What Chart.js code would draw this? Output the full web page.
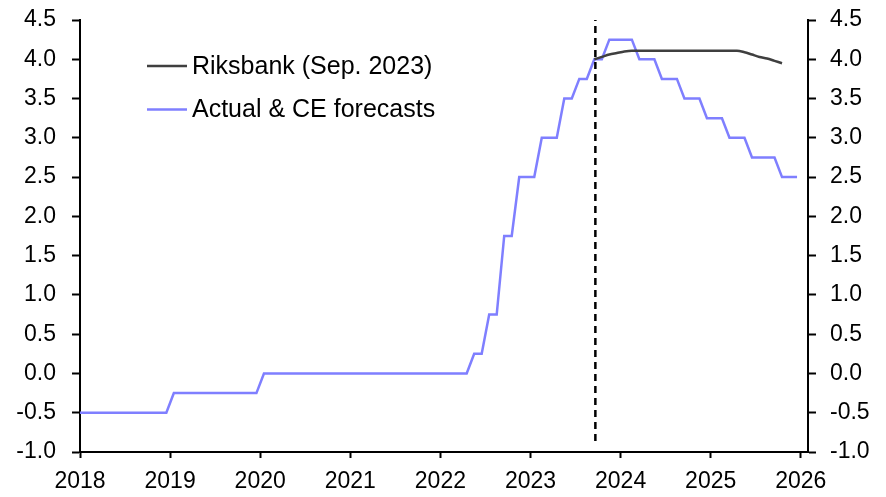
<!DOCTYPE html>
<html>
<head>
<meta charset="utf-8">
<script src="https://cdn.jsdelivr.net/npm/chart.js@4.4.1/dist/chart.umd.min.js"></script>
<style>
  html, body { margin: 0; padding: 0; background: #fff; }
  #wrap { width: 886px; height: 497px; position: relative; }
</style>
</head>
<body>
<div id="wrap"><canvas id="grafico"></canvas></div>
<script>
// Tipo de interés oficial (mensual) y previsiones CE
const rateMonths = [
  '2017-12',
  '2018-01','2018-02','2018-03','2018-04','2018-05','2018-06','2018-07','2018-08','2018-09','2018-10','2018-11','2018-12',
  '2019-01','2019-02','2019-03','2019-04','2019-05','2019-06','2019-07','2019-08','2019-09','2019-10','2019-11','2019-12',
  '2020-01','2020-02','2020-03','2020-04','2020-05','2020-06','2020-07','2020-08','2020-09','2020-10','2020-11','2020-12',
  '2021-01','2021-02','2021-03','2021-04','2021-05','2021-06','2021-07','2021-08','2021-09','2021-10','2021-11','2021-12',
  '2022-01','2022-02','2022-03','2022-04','2022-05','2022-06','2022-07','2022-08','2022-09','2022-10','2022-11','2022-12',
  '2023-01','2023-02','2023-03','2023-04','2023-05','2023-06','2023-07','2023-08','2023-09','2023-10','2023-11','2023-12',
  '2024-01','2024-02','2024-03','2024-04','2024-05','2024-06','2024-07','2024-08','2024-09','2024-10','2024-11','2024-12',
  '2025-01','2025-02','2025-03','2025-04','2025-05','2025-06','2025-07','2025-08','2025-09','2025-10','2025-11','2025-12'
];
const rateValues = [
  -0.5,
  -0.5,-0.5,-0.5,-0.5,-0.5,-0.5,-0.5,-0.5,-0.5,-0.5,-0.5,-0.5,
  -0.25,-0.25,-0.25,-0.25,-0.25,-0.25,-0.25,-0.25,-0.25,-0.25,-0.25,-0.25,
  0,0,0,0,0,0,0,0,0,0,0,0,
  0,0,0,0,0,0,0,0,0,0,0,0,
  0,0,0,0,0.25,0.25,0.75,0.75,1.75,1.75,2.5,2.5,
  2.5,3.0,3.0,3.0,3.5,3.5,3.75,3.75,4.0,4.0,4.25,4.25,
  4.25,4.25,4.0,4.0,4.0,3.75,3.75,3.75,3.5,3.5,3.5,3.25,
  3.25,3.25,3.0,3.0,3.0,2.75,2.75,2.75,2.75,2.5,2.5,2.5
];

// Senda del Riksbank (Sep. 2023)
const riksMonths = [
  '2023-09','2023-10','2023-11','2023-12',
  '2024-01','2024-02','2024-03','2024-04','2024-05','2024-06','2024-07','2024-08','2024-09','2024-10','2024-11','2024-12',
  '2025-01','2025-02','2025-03','2025-04','2025-05','2025-06','2025-07','2025-08','2025-09','2025-10'
];
const riksValues = [
  4.00,4.03,4.06,4.08,
  4.10,4.11,4.11,4.11,4.11,4.11,4.11,4.11,4.11,4.11,4.11,4.11,
  4.11,4.11,4.11,4.11,4.09,4.06,4.03,4.01,3.98,3.95
];

// Línea vertical discontinua (inicio de la previsión)
const cutoffYear = 2023.72;
const cutoffRange = [-0.86, 4.5];

const yearTicks = [2018, 2019, 2020, 2021, 2022, 2023, 2024, 2025, 2026];
const yTicks = [-1.0, -0.5, 0.0, 0.5, 1.0, 1.5, 2.0, 2.5, 3.0, 3.5, 4.0, 4.5];

const labelRiks = 'Riksbank (Sep. 2023)';
const labelActual = 'Actual & CE forecasts';

// Convierte "AAAA-MM" a año decimal (mitad de mes)
function aAnio(s) {
    const p = s.split('-');
    return Number(p[0]) + (Number(p[1]) - 0.5) / 12;
}
function puntos(meses, valores) {
    return meses.map((m, i) => ({ x: aAnio(m), y: valores[i] }));
}

const FONT = "'Liberation Sans', Arial, sans-serif";

// Leyenda dibujada dentro del área del gráfico
const leyenda = {
    id: 'leyenda',
    afterDraw(chart) {
        const c = chart.ctx;
        const items = chart.data.datasets.filter(d => d.label);
        c.save();
        c.font = '25px ' + FONT;
        c.textBaseline = 'middle';
        c.fillStyle = '#000';
        items.forEach((d, i) => {
            const y = 66 + i * 43.5;
            c.strokeStyle = d.borderColor;
            c.lineWidth = d.borderWidth;
            c.beginPath();
            c.moveTo(147, y);
            c.lineTo(187, y);
            c.stroke();
            c.fillText(d.label, 192, y + 1);
        });
        c.restore();
    }
};

const ejeY = (pos, pad) => ({
    type: 'linear',
    position: pos,
    min: -1,
    max: 4.5,
    afterBuildTicks: (s) => { s.ticks = yTicks.map(v => ({ value: v })); },
    afterFit: (s) => {
        s.width = pos === 'left' ? 80 : 78;
        s.paddingTop = 0;
        s.paddingBottom = 0;
    },
    ticks: {
        color: '#000',
        font: { family: FONT, size: 23 },
        padding: pad,
        callback: (v) => v.toFixed(1)
    },
    grid: {
        drawOnChartArea: false,
        drawTicks: true,
        tickLength: 8,
        tickColor: '#000',
        tickWidth: 2
    },
    border: { display: true, color: '#000', width: 2 }
});

const ctx = document.getElementById('grafico');
new Chart(ctx, {
    type: 'line',
    data: {
        datasets: [
            {
                label: labelRiks,
                data: puntos(riksMonths, riksValues),
                borderColor: '#3f3f3f',
                borderWidth: 2.5,
                pointRadius: 0,
                cubicInterpolationMode: 'monotone',
                yAxisID: 'y',
                order: 2
            },
            {
                label: labelActual,
                data: puntos(rateMonths, rateValues),
                borderColor: '#7f7fff',
                borderWidth: 2.5,
                pointRadius: 0,
                tension: 0,
                yAxisID: 'y',
                order: 3
            },
            {
                label: '',
                data: cutoffRange.map(v => ({ x: cutoffYear, y: v })),
                borderColor: '#000',
                borderWidth: 2.5,
                borderDash: [7, 5],
                pointRadius: 0,
                yAxisID: 'y',
                order: 1
            }
        ]
    },
    options: {
        responsive: true,
        maintainAspectRatio: false,
        animation: false,
        layout: { padding: { top: 20, left: 0, right: 0, bottom: 0 } },
        plugins: {
            legend: { display: false },
            tooltip: { enabled: false }
        },
        scales: {
            x: {
                type: 'linear',
                min: 2018,
                max: 2026.08,
                afterBuildTicks: (s) => { s.ticks = yearTicks.map(v => ({ value: v })); },
                afterFit: (s) => { s.height = 45; },
                ticks: {
                    color: '#000',
                    font: { family: FONT, size: 23 },
                    padding: 10,
                    maxRotation: 0,
                    callback: (v) => String(v)
                },
                grid: {
                    drawOnChartArea: false,
                    drawTicks: true,
                    tickLength: 6,
                    tickColor: '#000',
                    tickWidth: 2
                },
                border: { display: true, color: '#000', width: 2 }
            },
            y: ejeY('left', 16),
            y2: ejeY('right', 14)
        }
    },
    plugins: [leyenda]
});
</script>
</body>
</html>
